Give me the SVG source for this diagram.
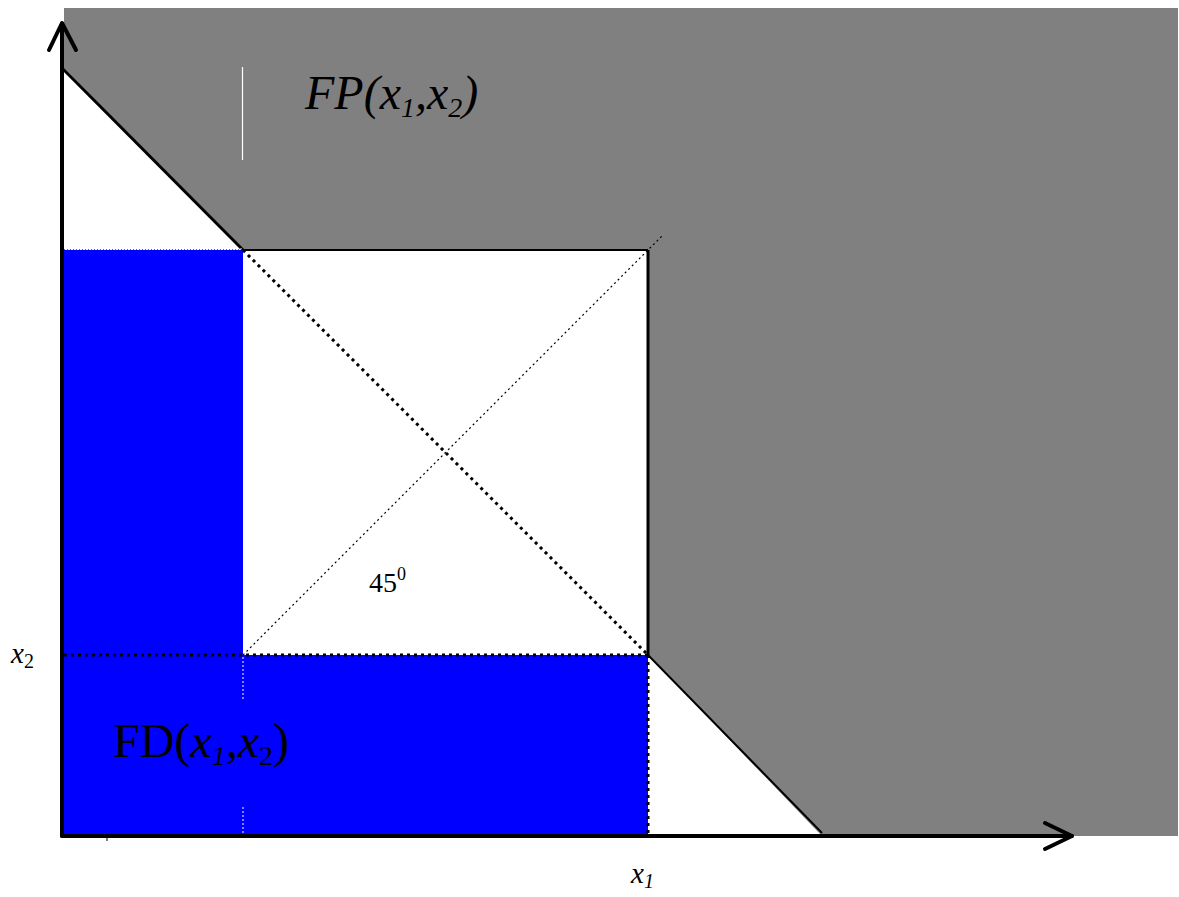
<svg xmlns="http://www.w3.org/2000/svg" width="1179" height="897" viewBox="0 0 1179 897">
<style>
.lbl{font-family:"Liberation Serif","Times New Roman",serif;fill:#000}
.it{font-style:italic}
.ax{stroke:#000;stroke-width:4;fill:none;stroke-linecap:round;stroke-linejoin:round}
</style>
<rect width="1179" height="897" fill="#fff"/>
<g id="regions">
<polygon id="fp-region" points="64,8 1178,8 1178,836 822,836 648,655 648,250 243,250 64,68" fill="#808080"/>
<polygon id="fd-region" points="64,250 243,250 243,655 648,655 648,836 64,836" fill="#0000ff"/>
</g>
<g id="connectors">
<line x1="62" y1="68" x2="243" y2="250" stroke="#000" stroke-width="3"/>
<line x1="243" y1="250" x2="648" y2="655" stroke="#000" stroke-width="3" stroke-dasharray="3,4"/>
<line x1="648" y1="655" x2="822" y2="833" stroke="#000" stroke-width="2"/>
<line x1="243" y1="250" x2="648" y2="250" stroke="#000" stroke-width="2"/>
<line x1="648" y1="250" x2="648" y2="655" stroke="#000" stroke-width="3"/>
<line x1="243" y1="655" x2="663" y2="235" stroke="#000" stroke-width="1.2" stroke-dasharray="2,3"/>
<line x1="64" y1="655" x2="648" y2="655" stroke="#000" stroke-width="3" stroke-dasharray="3,4"/>
<line x1="648" y1="655" x2="648" y2="836" stroke="#000" stroke-width="3" stroke-dasharray="3,4"/>
<line x1="64" y1="249" x2="243" y2="249" stroke="#fff" stroke-width="1" stroke-dasharray="2,2"/>
<line x1="64" y1="249.5" x2="243" y2="249.5" stroke="#000" stroke-width="1" stroke-dasharray="1,2" opacity="0.6"/>
<line x1="243" y1="657" x2="243" y2="700" stroke="#fff" stroke-width="1" stroke-dasharray="2,2"/>
<line x1="243" y1="807" x2="243" y2="836" stroke="#fff" stroke-width="1" stroke-dasharray="2,2"/>
<line x1="242.5" y1="67" x2="242.5" y2="160" stroke="#fff" stroke-width="1.2"/>
<line x1="107" y1="838" x2="107" y2="841" stroke="#000" stroke-width="1"/>
</g>
<g id="axes">
<line class="ax" x1="62" y1="836" x2="62" y2="24"/>
<polyline class="ax" points="49,50 62,23 76,50"/>
<line class="ax" x1="62" y1="836" x2="1072" y2="836"/>
<polyline class="ax" points="1045,823 1072,836 1045,849"/>
</g>
<g id="labels">
<text class="lbl it" x="305" y="109" font-size="48">FP(x<tspan font-size="28" dy="8">1</tspan><tspan dy="-8">,x</tspan><tspan font-size="28" dy="8">2</tspan><tspan dy="-8">)</tspan></text>
<text class="lbl" x="113" y="757" font-size="48">FD(<tspan class="it">x</tspan><tspan class="it" font-size="28" dy="8">1</tspan><tspan class="it" dy="-8">,x</tspan><tspan font-size="28" dy="8">2</tspan><tspan dy="-8">)</tspan></text>
<text class="lbl it" x="11" y="663" font-size="29">x<tspan font-style="normal" font-size="20" dy="5">2</tspan></text>
<text class="lbl it" x="631" y="883" font-size="29">x<tspan font-size="20" dy="5">1</tspan></text>
<text class="lbl" x="369" y="592" font-size="28">45<tspan font-size="18" dy="-12">0</tspan></text>
</g>
</svg>
